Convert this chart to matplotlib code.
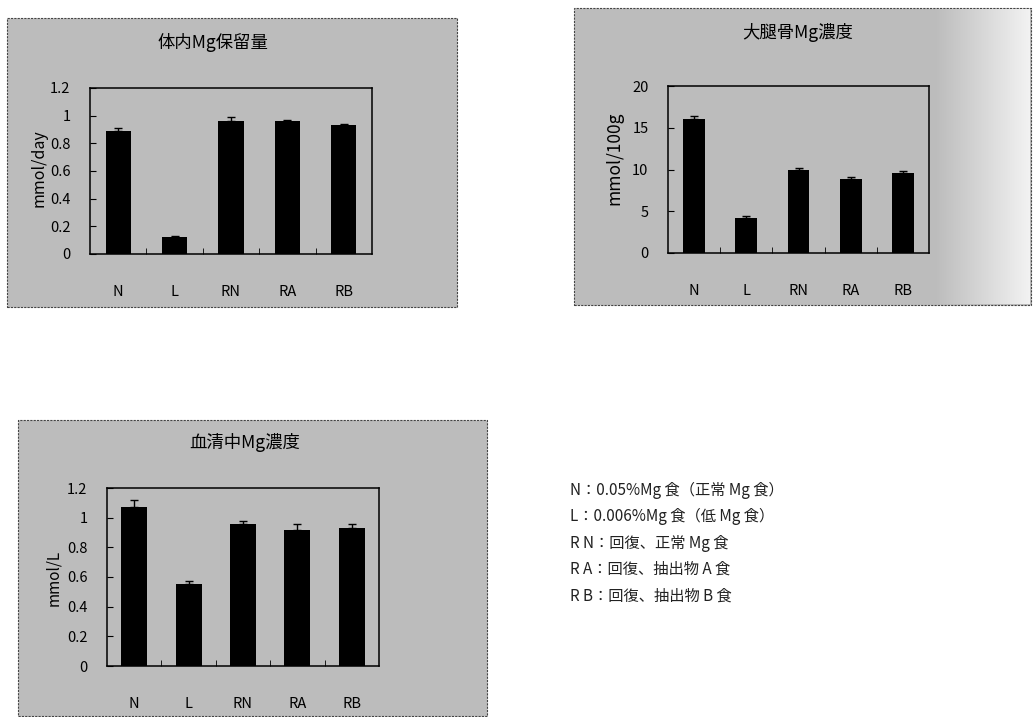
import numpy as np
import matplotlib
matplotlib.use("Agg")
import matplotlib.pyplot as plt
from matplotlib.patches import Rectangle
from matplotlib.colors import to_rgb

plt.rcParams['font.family'] = ['Noto Sans CJK JP', 'DejaVu Sans']

W, H = 1033, 717  # figure size in pixels

groups = ["N", "L", "RN", "RA", "RB"]

# 体内Mg保留量 (mmol/day)
retention = [0.89, 0.12, 0.96, 0.96, 0.93]
retention_err = [0.02, 0.01, 0.03, 0.01, 0.01]

# 大腿骨Mg濃度 (mmol/100g)
femur = [16.1, 4.2, 10.0, 8.9, 9.6]
femur_err = [0.3, 0.2, 0.2, 0.2, 0.2]

# 血清中Mg濃度 (mmol/L)
serum = [1.07, 0.55, 0.96, 0.92, 0.93]
serum_err = [0.05, 0.02, 0.02, 0.04, 0.03]

legend_lines = [
    "N：0.05%Mg 食（正常 Mg 食）",
    "L：0.006%Mg 食（低 Mg 食）",
    "R N：回復、正常 Mg 食",
    "R A：回復、抽出物 A 食",
    "R B：回復、抽出物 B 食",
]

PANEL_GRAY = "#bcbcbc"


def fig_box(x0, y0, x1, y1):
    # pixel box (top-left origin) -> figure fraction [l, b, w, h]
    return [x0 / W, 1 - y1 / H, (x1 - x0) / W, (y1 - y0) / H]


def panel(fig, box, light_right=None):
    l, b, w, h = fig_box(*box)
    fig.patches.append(Rectangle((l, b), w, h, transform=fig.transFigure,
                                 facecolor=PANEL_GRAY, edgecolor="#444444",
                                 linewidth=0.8, linestyle=(0, (2, 1)), zorder=0))
    if light_right is not None:
        # scanned page gets lighter towards the right edge
        gl, gb, gw, gh = fig_box(light_right, box[1] + 1, box[2] - 1, box[3] - 1)
        gax = fig.add_axes([gl, gb, gw, gh], zorder=0.5)
        c0 = np.array(to_rgb(PANEL_GRAY))
        c1 = np.array([0.95, 0.95, 0.95])
        t = np.linspace(0, 1, 256)[:, None]
        grad = (c0 * (1 - t) + c1 * t)[None, :, :]
        gax.imshow(grad, aspect="auto", extent=[0, 1, 0, 1])
        gax.set_axis_off()


def bar_chart(fig, box, values, errs, ymax, ystep, title, ylabel,
              title_xy, ylabel_xy, width=0.45, tick_fmt=None, ylabel_size=12):
    ax = fig.add_axes(fig_box(*box), zorder=2)
    ax.set_facecolor(PANEL_GRAY)
    x = np.arange(len(groups))
    ax.bar(x, values, width=width, color="black", zorder=3)
    ax.errorbar(x, values, yerr=[[0] * len(errs), errs], fmt="none",
                ecolor="black", elinewidth=1, capsize=3, zorder=4)
    ax.set_xlim(-0.5, len(groups) - 0.5)
    ax.set_ylim(0, ymax)
    ticks = np.arange(0, ymax + ystep / 2, ystep)
    ax.set_yticks(ticks)
    if tick_fmt:
        ax.set_yticklabels([tick_fmt(t) for t in ticks])
    ax.set_xticks(x)
    ax.set_xticklabels(groups)
    ax.set_xticks(np.arange(0.5, len(groups) - 1, 1), minor=True)
    ax.tick_params(axis="x", which="major", length=0, pad=22, labelsize=10.5)
    ax.tick_params(axis="x", which="minor", direction="in", length=4)
    ax.tick_params(axis="y", direction="in", length=4, pad=14, labelsize=10.5)
    for s in ax.spines.values():
        s.set_linewidth(1.1)
        s.set_color("black")
    fig.text(title_xy[0] / W, 1 - title_xy[1] / H, title, ha="center",
             va="center", fontsize=12.5)
    fig.text(ylabel_xy[0] / W, 1 - ylabel_xy[1] / H, ylabel, ha="center",
             va="center", rotation=90, fontsize=ylabel_size)
    return ax


def fmt_dec(t):
    s = f"{t:.1f}"
    return s.rstrip("0").rstrip(".") if s.endswith(".0") else s


fig = plt.figure(figsize=(W / 100, H / 100), dpi=100)
fig.patch.set_facecolor("white")

panel(fig, (7, 18, 457, 307))
panel(fig, (574, 8, 1031, 305), light_right=935)
panel(fig, (18, 420, 487, 716))

bar_chart(fig, (90, 88, 372, 254), retention, retention_err, 1.2, 0.2,
          "体内Mg保留量", "mmol/day", (213, 43), (39, 168),
          width=0.45, tick_fmt=fmt_dec, ylabel_size=11.5)
bar_chart(fig, (668, 86, 929, 253), femur, femur_err, 20, 5,
          "大腿骨Mg濃度", "mmol/100g", (798, 33), (614, 158),
          width=0.42, tick_fmt=lambda t: f"{t:.0f}", ylabel_size=12.5)
bar_chart(fig, (107, 488, 379, 666), serum, serum_err, 1.2, 0.2,
          "血清中Mg濃度", "mmol/L", (245, 442), (54, 578),
          width=0.48, tick_fmt=fmt_dec, ylabel_size=11)

for i, line in enumerate(legend_lines):
    fig.text(570 / W, 1 - (490 + i * 26.5) / H, line, ha="left", va="center",
             fontsize=11, color="#222222")

fig.savefig("out.png", dpi=100)
